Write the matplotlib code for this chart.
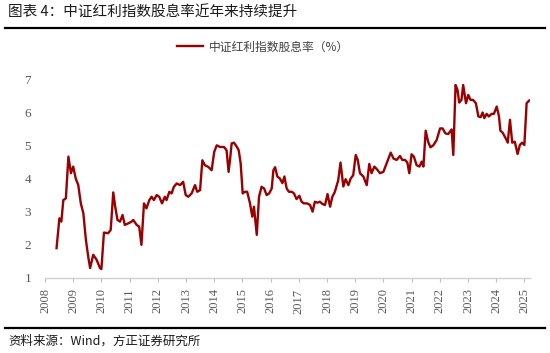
import matplotlib
matplotlib.use("Agg")
import matplotlib.pyplot as plt
from matplotlib.lines import Line2D

plt.rcParams['font.family'] = ['Liberation Serif', 'Noto Sans CJK SC', 'DejaVu Sans']

years = [2008.41, 2008.51, 2008.58, 2008.65, 2008.74, 2008.83, 2008.92, 2009.0, 2009.09, 2009.18,
         2009.27, 2009.36, 2009.45, 2009.54, 2009.6, 2009.71, 2009.83, 2009.95, 2010.0, 2010.09,
         2010.24, 2010.33, 2010.42, 2010.49, 2010.57, 2010.66, 2010.75, 2010.83, 2010.96, 2011.07,
         2011.13, 2011.25, 2011.34, 2011.42, 2011.51, 2011.6, 2011.70, 2011.78, 2011.86, 2011.96,
         2012.05, 2012.15, 2012.25, 2012.31, 2012.41, 2012.49, 2012.57, 2012.67, 2012.79, 2012.9,
         2012.99, 2013.08, 2013.2, 2013.32, 2013.4, 2013.5, 2013.58, 2013.67, 2013.79, 2013.91,
         2014.0, 2014.09, 2014.21, 2014.35, 2014.44, 2014.51, 2014.56, 2014.62, 2014.70, 2014.8,
         2014.87, 2014.94, 2015.01, 2015.09, 2015.17, 2015.27, 2015.35, 2015.41, 2015.51, 2015.59,
         2015.68, 2015.77, 2015.86, 2015.95, 2016.04, 2016.10, 2016.16, 2016.24, 2016.33, 2016.42,
         2016.49, 2016.57, 2016.65, 2016.75, 2016.83, 2016.92, 2017.02, 2017.1, 2017.18, 2017.3,
         2017.4, 2017.49, 2017.57, 2017.66, 2017.75, 2017.84, 2017.93, 2018.02, 2018.11, 2018.19,
         2018.28, 2018.4, 2018.48, 2018.58, 2018.66, 2018.76, 2018.84, 2018.93, 2019.02, 2019.09,
         2019.17, 2019.29, 2019.41, 2019.5, 2019.58, 2019.68, 2019.79, 2019.88, 2020.0, 2020.09,
         2020.17, 2020.26, 2020.36, 2020.47, 2020.59, 2020.67, 2020.77, 2020.85, 2020.92, 2021.0,
         2021.08, 2021.18, 2021.28, 2021.36, 2021.42, 2021.5, 2021.59, 2021.67, 2021.77, 2021.89,
         2022.01, 2022.1, 2022.2, 2022.3, 2022.42, 2022.48, 2022.56, 2022.63, 2022.69, 2022.77,
         2022.83, 2022.93, 2023.01, 2023.09, 2023.18, 2023.28, 2023.37, 2023.45, 2023.52, 2023.58,
         2023.66, 2023.74, 2023.84, 2023.92, 2024.02, 2024.1, 2024.15, 2024.23, 2024.34, 2024.41,
         2024.49, 2024.57, 2024.66, 2024.76, 2024.84, 2024.92, 2025.0, 2025.08, 2025.17]
dividend_yield = [1.90, 2.80, 2.70, 3.35, 3.40, 4.66, 4.16, 4.36, 4.00, 3.80,
                  3.25, 2.95, 2.15, 1.60, 1.30, 1.70, 1.55, 1.30, 1.27, 2.37,
                  2.35, 2.45, 3.58, 3.15, 2.75, 2.70, 2.90, 2.60, 2.65, 2.70,
                  2.75, 2.60, 2.55, 2.00, 3.25, 3.10, 3.35, 3.45, 3.35, 3.50,
                  3.45, 3.25, 3.45, 3.35, 3.60, 3.55, 3.75, 3.85, 3.80, 3.90,
                  3.50, 3.45, 3.55, 3.80, 3.60, 3.65, 4.55, 4.40, 4.35, 4.25,
                  4.80, 5.00, 4.95, 4.95, 4.85, 4.20, 4.55, 5.06, 5.08, 4.96,
                  4.85, 4.45, 3.55, 3.60, 3.60, 3.25, 2.85, 3.15, 2.30, 3.45,
                  3.75, 3.70, 3.50, 3.55, 3.70, 4.25, 4.34, 4.06, 4.00, 3.86,
                  4.06, 3.70, 3.60, 3.60, 3.55, 3.38, 3.48, 3.30, 3.25, 3.25,
                  3.20, 3.00, 3.30, 3.27, 3.30, 3.23, 3.20, 3.53, 3.15, 3.45,
                  3.60, 3.95, 4.48, 3.76, 3.98, 3.80, 4.00, 4.10, 4.71, 4.56,
                  4.16, 4.06, 3.80, 4.44, 4.16, 4.36, 4.26, 4.16, 4.20, 4.40,
                  4.58, 4.78, 4.60, 4.56, 4.68, 4.56, 4.56, 4.48, 4.16, 4.73,
                  4.66, 4.40, 4.36, 4.51, 4.36, 5.44, 5.10, 4.94, 5.00, 5.16,
                  5.51, 5.51, 5.36, 5.34, 5.48, 4.71, 6.82, 6.67, 6.29, 6.37,
                  6.82, 6.27, 6.52, 6.37, 6.37, 6.27, 5.87, 5.85, 5.99, 5.82,
                  5.95, 5.87, 5.95, 5.95, 6.17, 5.87, 5.44, 5.38, 5.21, 5.08,
                  5.77, 5.08, 5.11, 4.74, 5.01, 5.08, 5.01, 6.27, 6.35]
year_ticks = list(range(2008, 2026))
y_ticks = [1, 2, 3, 4, 5, 6, 7]

series_label = "中证红利指数股息率（%）"
title = "图表 4：中证红利指数股息率近年来持续提升"
source = "资料来源：Wind，方正证券研究所"

W, H = 550, 353
fig = plt.figure(figsize=(W / 100, H / 100), dpi=100)
ax = fig.add_axes([45 / W, 1 - 278 / H, (530 - 45) / W, (278 - 79) / H])

line, = ax.plot(years, dividend_yield, color="#9A0000", linewidth=1.7, solid_joinstyle="round")

ax.set_xlim(2008, 2025.2)
ax.set_ylim(1, 7)
ax.set_xticks(year_ticks)
ax.set_xticklabels([str(y) for y in year_ticks], rotation=90, fontsize=9, color="#595959")
ax.set_yticks(y_ticks)
ax.set_yticklabels([str(v) for v in y_ticks], fontsize=9.5, color="#595959")
ax.tick_params(axis="x", length=3, color="#BFBFBF", pad=4.5)
ax.tick_params(axis="y", length=0, pad=10)
for s in ["top", "right", "left"]:
    ax.spines[s].set_visible(False)
ax.spines["bottom"].set_color("#D0D0D0")
ax.spines["bottom"].set_linewidth(1.0)

# title and rules
fig.text(8 / W, 1 - 13 / H, title, fontsize=10.5, va="center", ha="left",
         family=["Noto Sans CJK SC", "DejaVu Sans"], color="#1a1a1a")
fig.add_artist(Line2D([5 / W, 545 / W], [1 - 28 / H, 1 - 28 / H], color="black", linewidth=1.6,
                      transform=fig.transFigure))
fig.add_artist(Line2D([5 / W, 545 / W], [1 - 328 / H, 1 - 328 / H], color="black", linewidth=1.6,
                      transform=fig.transFigure))
fig.text(8 / W, 1 - 341 / H, source, fontsize=9, va="center", ha="left", style="italic",
         family=["Noto Sans CJK SC", "DejaVu Sans"], color="#1a1a1a")

# legend
fig.legend([line], [series_label], loc="center", bbox_to_anchor=(263 / W, 1 - 47 / H),
           frameon=False, handlelength=2.2, handletextpad=0.5,
           prop={"family": ["Noto Sans CJK SC", "DejaVu Sans"], "size": 8.5},
           labelcolor="#404040")

fig.savefig("out.png", dpi=100)
